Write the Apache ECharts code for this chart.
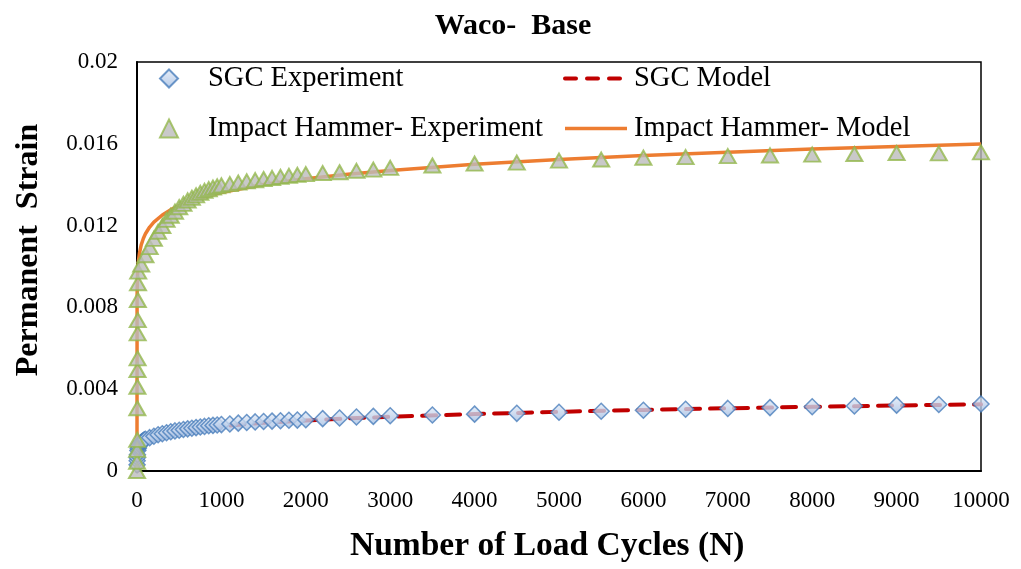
<!DOCTYPE html>
<html>
<head>
<meta charset="utf-8">
<script src="https://cdn.jsdelivr.net/npm/echarts@6/dist/echarts.min.js"></script>
<style>
  html, body { margin: 0; padding: 0; background: #fff; }
  #chart { width: 1021px; height: 569px; }
</style>
</head>
<body>
<div id="chart"></div>
<script>
// Permanent strain vs. number of load cycles, Waco base material

const chartTitle = 'Waco-  Base';
const xAxisTitle = 'Number of Load Cycles (N)';
const yAxisTitle = 'Permanent  Strain';
const seriesNames = ['SGC Experiment', 'SGC Model', 'Impact Hammer- Experiment', 'Impact Hammer- Model'];

const xTicks = [0, 1000, 2000, 3000, 4000, 5000, 6000, 7000, 8000, 9000, 10000];
const yTicks = [0, 0.004, 0.008, 0.012, 0.016, 0.02];

// SGC measured points
const sgcExpN = [1, 2, 3, 5, 10, 15, 20, 30, 40, 50, 60, 70, 80, 90, 100,
  150, 200, 250, 300, 350, 400, 450, 500, 550, 600, 650, 700, 750, 800, 850, 900, 950, 1000,
  1100, 1200, 1300, 1400, 1500, 1600, 1700, 1800, 1900, 2000,
  2200, 2400, 2600, 2800, 3000, 3500, 4000, 4500, 5000, 5500, 6000, 6500, 7000,
  7500, 8000, 8500, 9000, 9500, 10000];
const sgcExpStrain = [0.00030, 0.00050, 0.00065, 0.00080, 0.00100, 0.00110, 0.00118, 0.00128, 0.00135, 0.00140,
  0.00144, 0.00147, 0.00150, 0.00152, 0.00155,
  0.00163, 0.00170, 0.00177, 0.00182, 0.00187, 0.00192, 0.00196, 0.00199, 0.00203, 0.00206, 0.00209,
  0.00212, 0.00215, 0.00218, 0.00221, 0.00223, 0.00225, 0.00227,
  0.00230, 0.00234, 0.00237, 0.00240, 0.00242, 0.00244, 0.00246, 0.00248, 0.00249, 0.00251,
  0.00256, 0.00259, 0.00264, 0.00267, 0.00270, 0.00274, 0.00278, 0.00282, 0.00287, 0.00292, 0.00297,
  0.00302, 0.00306, 0.00310, 0.00314, 0.00318, 0.00322, 0.00325, 0.00328];

// SGC fitted model curve
const sgcModelN = [0, 1, 2, 3, 5, 7, 10, 15, 20, 30, 50, 75, 100, 150, 200, 300, 400, 500, 700, 1000,
  1500, 2000, 2500, 3000, 4000, 5000, 6000, 7000, 8000, 9000, 10000];
const sgcModelStrain = [0, 0.000669, 0.000754, 0.000808, 0.000882, 0.000935, 0.000994, 0.001066, 0.00112,
  0.001201, 0.00131, 0.001406, 0.001477, 0.001584, 0.001664, 0.001784, 0.001875, 0.001948, 0.002064,
  0.002195, 0.002354, 0.002473, 0.002570, 0.002652, 0.002786, 0.002895, 0.002987, 0.003067, 0.003139,
  0.003203, 0.003261];

// Impact hammer measured points
const ihExpN = [0, 1, 2, 3, 4, 5, 6, 7, 8, 9, 10, 12, 14,
  50, 100, 150, 200, 250, 300, 350, 400, 450, 500, 550, 600, 650, 700, 750, 800, 850, 900, 950, 1000,
  1100, 1200, 1300, 1400, 1500, 1600, 1700, 1800, 1900, 2000,
  2200, 2400, 2600, 2800, 3000, 3500, 4000, 4500, 5000, 5500, 6000, 6500, 7000,
  7500, 8000, 8500, 9000, 9500, 10000];
const ihExpStrain = [0, 0.00045, 0.00103, 0.00152, 0.00307, 0.00412, 0.00494, 0.00551, 0.00673, 0.00738,
  0.00836, 0.00918, 0.00975,
  0.01010, 0.01055, 0.01095, 0.01135, 0.01170, 0.01198, 0.01228, 0.01248, 0.01268, 0.01290, 0.01306,
  0.01323, 0.01336, 0.01348, 0.01360, 0.01370, 0.01378, 0.01386, 0.01392, 0.01397,
  0.01403, 0.01410, 0.01416, 0.01422, 0.01428, 0.01433, 0.01438, 0.01443, 0.01448, 0.01452,
  0.01457, 0.01461, 0.01468, 0.01474, 0.01482, 0.01494, 0.01503, 0.01508, 0.01518, 0.01523, 0.01532,
  0.01535, 0.01540, 0.01543, 0.01547, 0.01550, 0.01555, 0.01553, 0.01558];

// Impact hammer fitted model curve
const ihModelN = [0, 1, 2, 3, 5, 7, 10, 15, 20, 30, 50, 75, 100, 150, 200, 300, 400, 500, 700, 1000,
  1500, 2000, 2500, 3000, 4000, 5000, 6000, 7000, 8000, 9000, 10000];
const ihModelStrain = [0, 0.00842, 0.00884, 0.00909, 0.00942, 0.00964, 0.00988, 0.01017, 0.01037, 0.01067,
  0.01106, 0.01137, 0.01160, 0.01193, 0.01217, 0.01252, 0.01278, 0.01298, 0.01328, 0.01362, 0.01401,
  0.01429, 0.01451, 0.01470, 0.01500, 0.01523, 0.01543, 0.01559, 0.01574, 0.01587, 0.01599];

const pairs = (xs, ys) => xs.map((x, i) => [x, ys[i]]);

const serif = '"Liberation Serif", "Times New Roman", serif';
const GRID = { left: 137, right: 40, top: 62, bottom: 98 };

const SGC_RED = '#c00000';
const IH_ORANGE = '#ed7d31';
const sgcDash = { color: SGC_RED, width: 4, type: [14, 10], cap: 'round' };
const ihSolid = { color: IH_ORANGE, width: 3.5 };

const chart = echarts.init(document.getElementById('chart'), null, { renderer: 'canvas' });

const diamondFill = new echarts.graphic.LinearGradient(0, 0, 0, 1, [
  { offset: 0, color: '#e3ebf7' },
  { offset: 1, color: '#a3bde2' }
]);

const legendText = { fontFamily: serif, fontSize: 28.5, color: '#000' };

chart.setOption({
  animation: false,
  backgroundColor: '#ffffff',
  title: {
    text: chartTitle,
    left: 508,
    top: 6,
    textAlign: 'center',
    textStyle: { fontFamily: serif, fontWeight: 'bold', fontSize: 30, color: '#000' }
  },
  graphic: [
    {
      type: 'text',
      left: 350, top: 529,
      style: { text: xAxisTitle, font: 'bold 33.5px ' + serif, fill: '#000' }
    },
    {
      type: 'text',
      x: 13, y: 250,
      rotation: Math.PI / 2,
      style: { text: yAxisTitle, font: 'bold 32px ' + serif, fill: '#000', align: 'center', verticalAlign: 'top' }
    }
  ],
  legend: [
    {
      data: [seriesNames[0], seriesNames[2]],
      orient: 'vertical',
      left: 159, top: 64,
      padding: 0,
      itemWidth: 18, itemHeight: 18,
      itemGap: 21,
      textStyle: Object.assign({ padding: [0, 0, 0, 25] }, legendText)
    },
    {
      data: [
        { name: seriesNames[1], lineStyle: { width: 4, type: [11, 11], cap: 'round' } },
        { name: seriesNames[3], lineStyle: { width: 3.5 } }
      ],
      orient: 'vertical',
      left: 563, top: 64,
      padding: 0,
      itemWidth: 62, itemHeight: 18,
      itemGap: 21,
      itemStyle: { opacity: 0 },
      textStyle: Object.assign({ padding: [0, 0, 0, 2] }, legendText)
    }
  ],
  grid: Object.assign({ show: true, borderColor: '#000', borderWidth: 1.5, backgroundColor: 'transparent' }, GRID),
  xAxis: {
    type: 'value',
    min: xTicks[0], max: xTicks[xTicks.length - 1], interval: 1000,
    axisLine: { show: true, lineStyle: { color: '#000', width: 2 } },
    axisTick: { show: false },
    splitLine: { show: false },
    axisLabel: { fontFamily: serif, fontSize: 23, color: '#000', margin: 18, formatter: v => String(v) }
  },
  yAxis: {
    type: 'value',
    min: yTicks[0], max: yTicks[yTicks.length - 1], interval: 0.004,
    axisLine: { show: true, lineStyle: { color: '#000', width: 2 } },
    axisTick: { show: false },
    splitLine: { show: false },
    axisLabel: {
      fontFamily: serif, fontSize: 23, color: '#000', margin: 19,
      formatter: v => (v === 0 ? '0' : String(+v.toFixed(3)))
    }
  },
  series: [
    {
      name: seriesNames[1],
      type: 'line',
      data: pairs(sgcModelN, sgcModelStrain),
      symbol: 'none',
      z: 2,
      color: SGC_RED,
      lineStyle: sgcDash
    },
    {
      name: seriesNames[3],
      type: 'line',
      data: pairs(ihModelN, ihModelStrain),
      symbol: 'none',
      z: 2,
      color: IH_ORANGE,
      lineStyle: ihSolid
    },
    {
      name: seriesNames[0],
      type: 'scatter',
      data: pairs(sgcExpN, sgcExpStrain),
      symbol: 'diamond',
      symbolSize: 16,
      z: 3,
      itemStyle: { color: diamondFill, borderColor: '#4a7ebb', borderWidth: 1.5 }
    },
    {
      name: seriesNames[2],
      type: 'scatter',
      data: pairs(ihExpN, ihExpStrain),
      symbol: 'triangle',
      symbolSize: [16, 14],
      z: 4,
      itemStyle: { color: '#bcbcbc', borderColor: '#93b84e', borderWidth: 2 }
    }
  ]
});
</script>
</body>
</html>
